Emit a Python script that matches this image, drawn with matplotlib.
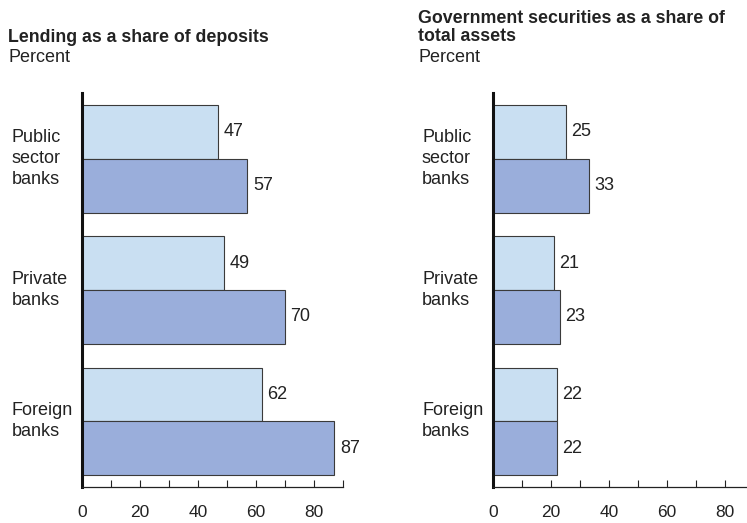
import matplotlib
matplotlib.use('Agg')
import matplotlib.pyplot as plt
import numpy as np

plt.rcParams['font.family'] = ['Liberation Sans', 'DejaVu Sans']

categories = ['Public\nsector\nbanks', 'Private\nbanks', 'Foreign\nbanks']
lending_first = [47, 49, 62]
lending_second = [57, 70, 87]
securities_first = [25, 21, 22]
securities_second = [33, 23, 22]
xticks = [0, 20, 40, 60, 80]

light = '#c9dff2'
dark = '#9aaedb'
edge = '#3a3a3a'
txt = '#222222'
bar_h = 0.41


def draw_panel(ax, first, second):
    ''' two stacked horizontal bars per category, with value labels '''
    y = np.arange(len(categories))
    b1 = ax.barh(y - bar_h / 2, first, height=bar_h, color=light,
                 edgecolor=edge, linewidth=0.8)
    b2 = ax.barh(y + bar_h / 2, second, height=bar_h, color=dark,
                 edgecolor=edge, linewidth=0.8)
    for bars, vals in ((b1, first), (b2, second)):
        for bar, v in zip(bars, vals):
            ax.annotate(str(v), (v, bar.get_y() + bar.get_height() / 2),
                        xytext=(4, 0), textcoords='offset points',
                        va='center', ha='left', fontsize=13, color=txt)
    ax.set_xlim(0, 90)
    ax.set_ylim(2.5, -0.5)
    ax.set_yticks([])
    ax.set_xticks(np.arange(0, 91, 10))
    ax.set_xticklabels([str(t) if t in xticks else '' for t in range(0, 91, 10)])
    ax.tick_params(axis='x', direction='in', length=5, width=0.8,
                   pad=13, labelsize=12.5, colors=txt)
    for s in ('top', 'right'):
        ax.spines[s].set_visible(False)
    ax.spines['left'].set_linewidth(2.2)
    ax.spines['left'].set_color('#111111')
    ax.spines['bottom'].set_linewidth(0.9)
    ax.spines['bottom'].set_color(txt)
    return y


fig = plt.figure(figsize=(7.47, 5.23), dpi=100)
ax1 = fig.add_axes([0.1098, 0.0688, 0.3494, 0.7533])
ax2 = fig.add_axes([0.660, 0.0688, 0.3494, 0.7533])

ys = draw_panel(ax1, lending_first, lending_second)
draw_panel(ax2, securities_first, securities_second)

# category labels on the left of each panel
for ax, xpos in ((ax1, 12), (ax2, 422)):
    for yv, cat in zip(ys, categories):
        disp = ax.transData.transform((0, yv))
        fig.text(xpos / 747, disp[1] / 523, cat, ha='left', va='center',
                 fontsize=13, color=txt, linespacing=1.3)

fig.text(8 / 747, 1 - 37 / 523, 'Lending as a share of deposits', fontsize=12.8,
         fontweight='bold', va='center', ha='left', color=txt)
fig.text(8 / 747, 1 - 57 / 523, 'Percent', fontsize=13, va='center',
         ha='left', color=txt)
fig.text(418 / 747, 1 - 27.5 / 523, 'Government securities as a share of\ntotal assets',
         fontsize=12.8, fontweight='bold', va='center', ha='left',
         color=txt, linespacing=1.1)
fig.text(418 / 747, 1 - 57 / 523, 'Percent', fontsize=13, va='center',
         ha='left', color=txt)

fig.savefig('out.png', dpi=100)
